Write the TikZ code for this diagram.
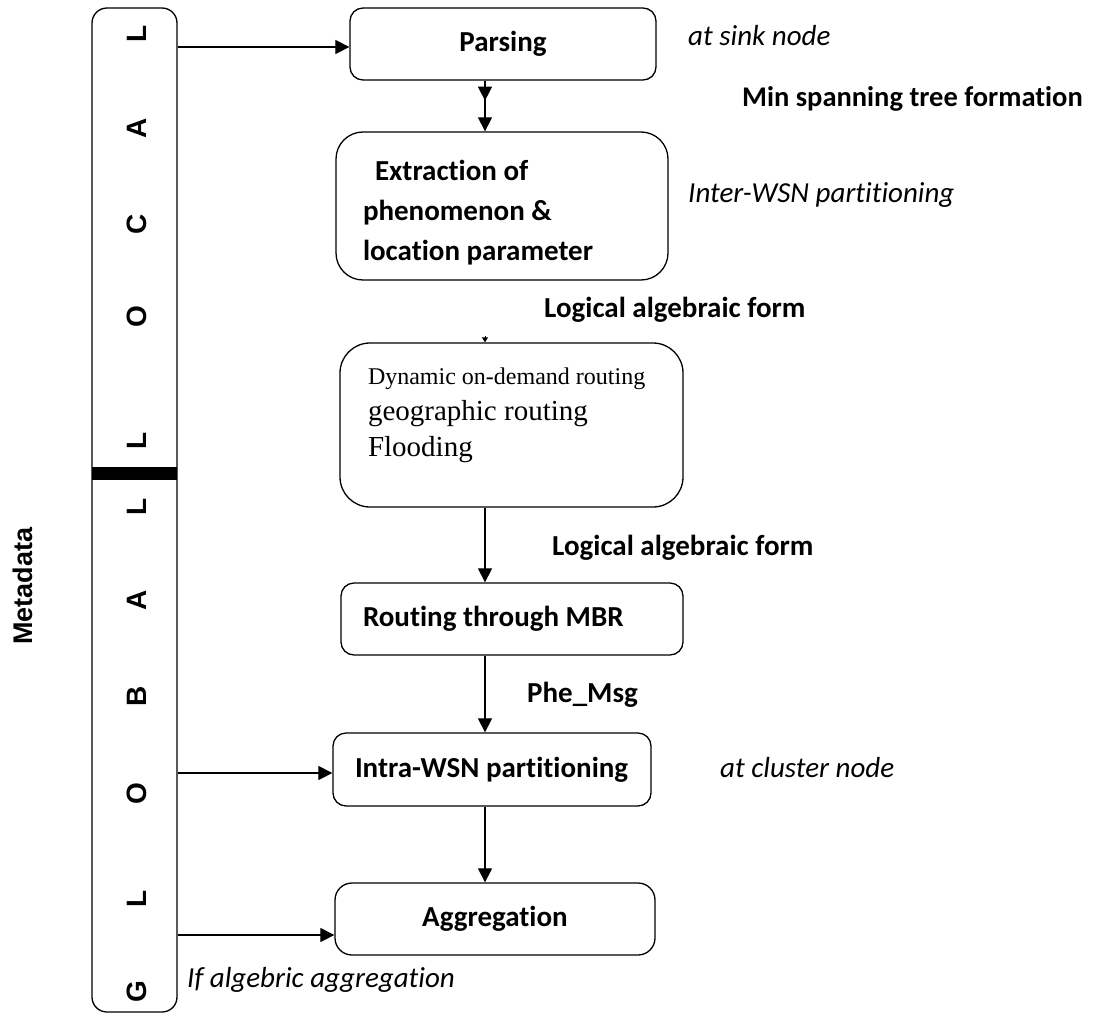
\documentclass[tikz,border=0pt]{standalone}
\usepackage{fontspec}
\setmainfont{Carlito}[Ligatures={NoCommon}]
\newfontfamily\arialfont{Liberation Sans}
\newfontfamily\timesfont{Liberation Serif}
\usetikzlibrary{arrows.meta,calc}
\begin{document}
\begin{tikzpicture}[x=1pt,y=-1pt,
  box/.style={draw,line width=1.3pt,rounded corners=13pt,inner ysep=0pt,
    font=\fontsize{29}{40}\selectfont\bfseries},
  arr/.style={line width=1.2pt,-{Triangle[length=14pt,width=14pt]}},
  lbl/.style={font=\fontsize{29}{34}\selectfont\bfseries,inner sep=0pt},
  itl/.style={font=\fontsize{29}{34}\selectfont\itshape,inner sep=0pt},
  barletter/.style={font=\arialfont\fontsize{28}{28}\selectfont\bfseries,rotate=90,inner sep=0pt}]
\useasboundingbox (0,0) rectangle (1098,1017);

% vertical bar
\node[draw,line width=1.3pt,rounded corners=15pt,minimum width=85pt,minimum height=1004pt,inner sep=0pt] (bar) at (134.5,510) {};
\node[fill=black,minimum width=85pt,minimum height=13pt,inner sep=0pt] (sep) at (134.5,473.5) {};
\node[barletter] (l1) at (137,34) {L};
\node[barletter] (l2) at (137,128) {A};
\node[barletter] (l3) at (137,224) {C};
\node[barletter] (l4) at (137,317) {O};
\node[barletter] (l5) at (137,441) {L};
\node[barletter] (g1) at (137,507) {L};
\node[barletter] (g2) at (137,600) {A};
\node[barletter] (g3) at (137,696) {B};
\node[barletter] (g4) at (137,794) {O};
\node[barletter] (g5) at (137,899) {L};
\node[barletter] (g6) at (137,992) {G};
\node[barletter,font=\arialfont\fontsize{27}{27}\selectfont\bfseries] (meta) at (23,586) {Metadata};

% boxes
\node[box,minimum width=306pt,minimum height=72pt] (parse) at (503,44) {Parsing};
\node[box,rounded corners=27pt,minimum width=332pt,minimum height=148pt,text width=278pt,inner xsep=27pt,align=flush left] (ext) at (502,206)
  {\rule{0pt}{33pt}\hspace*{12pt}Extraction of\\phenomenon \&\\location parameter};
\node[box,rounded corners=30pt,minimum width=343pt,minimum height=164pt,text width=287pt,inner xsep=28pt,align=flush left,
  font=\timesfont\fontsize{29}{36}\selectfont] (dyn) at (511.5,425)
  {{\fontsize{24}{36}\selectfont Dynamic on-demand routing}\\geographic routing\\Flooding\\[-10pt]\mbox{}};
\node[box,minimum width=342pt,minimum height=72pt,text width=298pt,inner xsep=22pt,align=flush left] (rout) at (512,619) {Routing through MBR};
\node[box,minimum width=318pt,minimum height=73pt,text width=274pt,inner xsep=22pt,align=flush left] (intra) at (492,769.5) {Intra-WSN partitioning};
\node[box,rounded corners=17pt,minimum width=320pt,minimum height=72pt] (agg) at (495,919) {Aggregation};

% side labels
\node[itl,anchor=base west] (sink) at (688,45) {at sink node};
\node[lbl,anchor=base west,font=\fontsize{28.5}{34}\selectfont\bfseries] (mst) at (742,106) {Min spanning tree formation};
\node[itl,anchor=base west] (inter) at (688,202) {Inter-WSN partitioning};
\node[lbl,anchor=base west] (laf1) at (544,317) {Logical algebraic form};
\node[lbl,anchor=base west] (laf2) at (552,555) {Logical algebraic form};
\node[lbl,anchor=base west] (phe) at (527,702) {Phe\_Msg};
\node[itl,anchor=base west] (clus) at (720,777) {at cluster node};
\node[itl,anchor=base west] (ifalg) at (187,987) {If algebric aggregation};

% connectors
\coordinate (xl) at (485,0);
\coordinate (pm) at ($(parse.south -| xl)+(0,20)$);
\draw[arr] (parse.south -| xl) -- (ext.north -| xl);
\draw[arr] (parse.south -| xl) -- (pm);
\coordinate (dt) at ($(dyn.north -| xl)+(0,-6)$);
\draw[line width=1pt,-{Triangle[length=5pt,width=6pt]}] (dt) -- (dyn.north -| xl);
\draw[arr] (dyn.south -| xl) -- (rout.north -| xl);
\draw[arr] (rout.south -| xl) -- (intra.north -| xl);
\draw[arr] (intra.south -| xl) -- (agg.north -| xl);

\coordinate (ya) at (0,47);
\coordinate (yb) at (0,773);
\coordinate (yc) at (0,935);
\draw[arr] (bar.east |- ya) -- (parse.west |- ya);
\draw[arr] (bar.east |- yb) -- (intra.west |- yb);
\draw[arr] (bar.east |- yc) -- (agg.west |- yc);
\end{tikzpicture}
\end{document}
